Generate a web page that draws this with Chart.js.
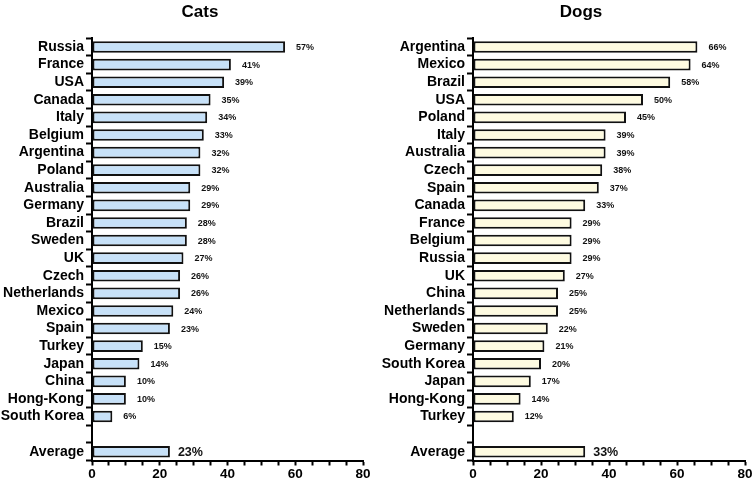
<!DOCTYPE html>
<html>
<head>
<meta charset="utf-8">
<script src="https://cdn.jsdelivr.net/npm/chart.js@4"></script>
<style>
  html, body { margin: 0; padding: 0; background: #fff; }
  #wrap { position: relative; width: 755px; height: 484px; }
  canvas { position: absolute; top: 0; }
</style>
</head>
<body>
<div id="wrap">
  <canvas id="catsChart" width="377" height="484" style="left:0"></canvas>
  <canvas id="dogsChart" width="378" height="484" style="left:377px"></canvas>
</div>
<script>
// charts data
const catLabels = ['Russia', 'France', 'USA', 'Canada', 'Italy', 'Belgium', 'Argentina', 'Poland',
  'Australia', 'Germany', 'Brazil', 'Sweden', 'UK', 'Czech', 'Netherlands', 'Mexico', 'Spain',
  'Turkey', 'Japan', 'China', 'Hong-Kong', 'South Korea', '', 'Average'];
const catValues = [57, 41, 39, 35, 34, 33, 32, 32, 29, 29, 28, 28, 27, 26, 26, 24, 23, 15, 14, 10, 10, 6, null, 23];

const dogLabels = ['Argentina', 'Mexico', 'Brazil', 'USA', 'Poland', 'Italy', 'Australia', 'Czech',
  'Spain', 'Canada', 'France', 'Belgium', 'Russia', 'UK', 'China', 'Netherlands', 'Sweden',
  'Germany', 'South Korea', 'Japan', 'Hong-Kong', 'Turkey', '', 'Average'];
const dogValues = [66, 64, 58, 50, 45, 39, 39, 38, 37, 33, 29, 29, 29, 27, 25, 25, 22, 21, 20, 17, 14, 12, null, 33];

const xTicks = [0, 20, 40, 60, 80];

const FONT = '"Liberation Sans", Arial, sans-serif';
Chart.defaults.font.family = FONT;
Chart.defaults.color = '#000';

// percent labels to the right of each bar
const valueLabels = {
  id: 'valueLabels',
  afterDatasetsDraw(chart) {
    const ctx = chart.ctx;
    const meta = chart.getDatasetMeta(0);
    const values = chart.data.datasets[0].data;
    ctx.save();
    ctx.fillStyle = '#111';
    ctx.textBaseline = 'middle';
    ctx.textAlign = 'left';
    meta.data.forEach((bar, i) => {
      const v = values[i];
      if (v == null) return;
      const isAvg = chart.data.labels[i] === 'Average';
      ctx.font = isAvg ? 'bold 12.5px ' + FONT : 'bold 9px ' + FONT;
      ctx.fillText(v + '%', bar.x + (isAvg ? 8 : 11), bar.y + 0.5);
    });
    ctx.restore();
  }
};

// title drawn at a set x, not centred over the canvas
const sideTitle = {
  id: 'sideTitle',
  afterDraw(chart, args, opts) {
    const ctx = chart.ctx;
    ctx.save();
    ctx.font = 'bold 17px ' + FONT;
    ctx.fillStyle = '#000';
    ctx.textAlign = 'center';
    ctx.textBaseline = 'middle';
    ctx.fillText(opts.text, opts.x, 12.5);
    ctx.restore();
  }
};

function makeChart(id, title, titleX, labels, values, fill, padRight, yWidth) {
  return new Chart(document.getElementById(id), {
    type: 'bar',
    data: {
      labels: labels,
      datasets: [{
        data: values,
        backgroundColor: fill,
        borderColor: '#111',
        borderWidth: 2,
        borderSkipped: false,
        barPercentage: 0.66,
        categoryPercentage: 1
      }]
    },
    options: {
      indexAxis: 'y',
      responsive: false,
      animation: false,
      devicePixelRatio: 1,
      layout: { padding: { left: 0, right: padRight, top: 38.2, bottom: 0 } },
      plugins: {
        legend: { display: false },
        tooltip: { enabled: false },
        title: { display: false },
        sideTitle: { text: title, x: titleX }
      },
      scales: {
        x: {
          min: 0,
          max: 80,
          afterFit: s => { s.height = 23.5; },
          border: { color: '#000', width: 2 },
          grid: { drawOnChartArea: false, drawTicks: true, tickLength: 5, tickColor: '#000', tickWidth: 2 },
          ticks: {
            stepSize: 5,
            autoSkip: false,
            maxRotation: 0,
            padding: 1,
            color: '#000',
            font: { size: 13.5, weight: 'bold' },
            callback: v => xTicks.includes(v) ? v : ''
          }
        },
        y: {
          afterFit: s => { s.width = yWidth; },
          border: { color: '#000', width: 2 },
          grid: { drawOnChartArea: false, drawTicks: true, tickLength: 6, tickColor: '#000', tickWidth: 2 },
          ticks: {
            autoSkip: false,
            padding: 2,
            color: '#000',
            font: { size: 14, weight: 'bold' }
          }
        }
      }
    },
    plugins: [valueLabels, sideTitle]
  });
}

makeChart('catsChart', 'Cats', 200, catLabels, catValues, '#c7e1f8', 14, 92);
makeChart('dogsChart', 'Dogs', 204, dogLabels, dogValues, '#fefbe1', 10, 96);
</script>
</body>
</html>
